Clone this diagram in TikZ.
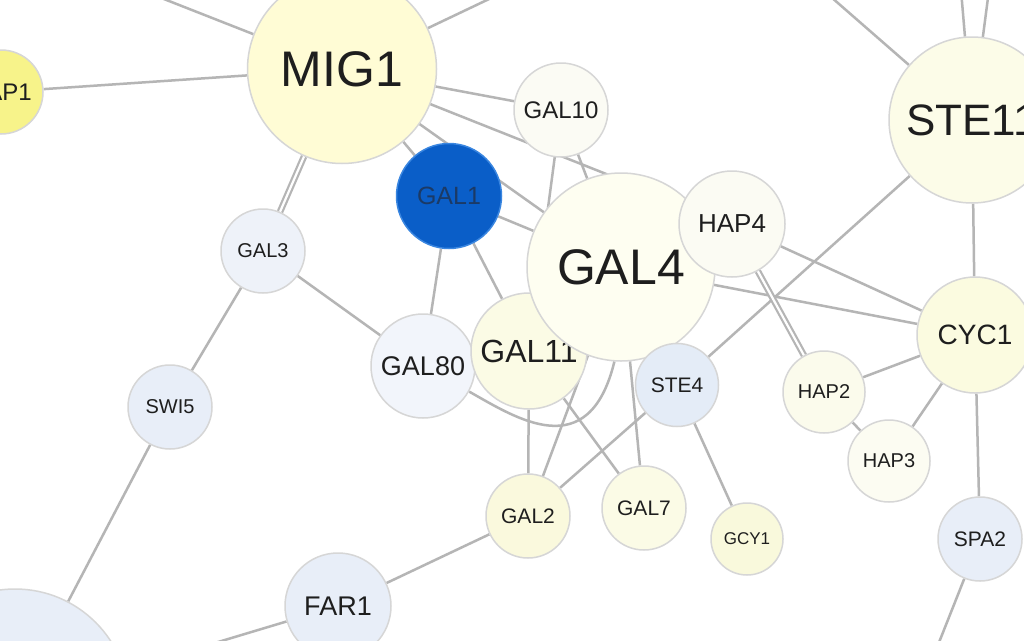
\documentclass[tikz,border=0pt]{standalone}
\usepackage{fontspec}
\setmainfont{Liberation Sans}
\pgfdeclarelayer{background}
\pgfsetlayers{background,main}
\definecolor{edgegray}{HTML}{B5B5B5}
\definecolor{nborder}{HTML}{D6D6D6}
\definecolor{txt}{HTML}{1E1E1E}
\definecolor{cMIG}{HTML}{FFFCD5}
\definecolor{cP}{HTML}{F7F38A}
\definecolor{cG10}{HTML}{FBFBF4}
\definecolor{cG4}{HTML}{FEFEF1}
\definecolor{cH4}{HTML}{FBFBF3}
\definecolor{cS11}{HTML}{FCFCE8}
\definecolor{cCYC}{HTML}{FBFBE0}
\definecolor{cG11}{HTML}{FBFBE5}
\definecolor{cG2}{HTML}{FAF9DD}
\definecolor{cG7}{HTML}{FBFBE6}
\definecolor{cGCY}{HTML}{F9F9DC}
\definecolor{cH2}{HTML}{FBFBEC}
\definecolor{cH3}{HTML}{FCFCF2}
\definecolor{cG3}{HTML}{EEF2F9}
\definecolor{cG80}{HTML}{F2F5FB}
\definecolor{cSTE4}{HTML}{E4ECF7}
\definecolor{cLB}{HTML}{E8EEF8}
\definecolor{cBlue}{HTML}{0A5EC8}
\definecolor{cBlueB}{HTML}{3A86E0}
\definecolor{cBlueT}{HTML}{1B3A66}
\tikzset{
  gn/.style={circle, draw=nborder, line width=1.5pt, inner sep=0pt, text=txt},
  fs/.style={font=\fontsize{#1}{#1}\selectfont},
  edge/.style={draw=edgegray, line width=2.5pt},
  dedge/.style={draw=edgegray, line width=2.2pt, double=white, double distance=2.2pt},
}
\begin{document}
\begin{tikzpicture}[x=1pt,y=-1pt]
\useasboundingbox (0,0) rectangle (1024,640);
\clip (0,0) rectangle (1024,640);
% nodes
\node[gn, fill=cMIG, minimum size=189pt, fs=50] (MIG1) at (342,69) {MIG1};
\node[gn, fill=cP, minimum size=84pt, label={[fs=24, text=txt, xshift=8pt]center:AP1}] (AP1) at (1,92) {};
\node[gn, fill=cG10, minimum size=94pt, fs=24] (GAL10) at (561,110) {GAL10};
\node[gn, fill=cBlue, draw=cBlueB, minimum size=105pt, fs=25, text=cBlueT] (GAL1) at (449,196) {GAL1};
\node[gn, fill=cG3, minimum size=84pt, fs=20] (GAL3) at (263,251) {GAL3};
\node[gn, fill=cG80, minimum size=104pt, fs=27] (GAL80) at (423,366) {GAL80};
\node[gn, fill=cG11, minimum size=116pt, fs=32] (GAL11) at (529,351) {GAL11};
\node[gn, fill=cG4, minimum size=188pt, fs=50] (GAL4) at (621,267) {GAL4};
\node[gn, fill=cH4, minimum size=106pt, fs=26] (HAP4) at (732,224) {HAP4};
\node[gn, fill=cS11, minimum size=166pt, fs=44] (STE11) at (972,120) {STE11};
\node[gn, fill=cCYC, minimum size=116pt, fs=28] (CYC1) at (975,335) {CYC1};
\node[gn, fill=cSTE4, minimum size=83pt, fs=21] (STE4) at (677,385) {STE4};
\node[gn, fill=cH2, minimum size=82pt, fs=20] (HAP2) at (824,392) {HAP2};
\node[gn, fill=cH3, minimum size=82pt, fs=20] (HAP3) at (889,461) {HAP3};
\node[gn, fill=cLB, minimum size=84pt, fs=20] (SWI5) at (170,407) {SWI5};
\node[gn, fill=cG2, minimum size=84pt, fs=21] (GAL2) at (528,516) {GAL2};
\node[gn, fill=cG7, minimum size=84pt, fs=21] (GAL7) at (644,508) {GAL7};
\node[gn, fill=cGCY, minimum size=72pt, fs=17] (GCY1) at (747,539) {GCY1};
\node[gn, fill=cLB, minimum size=84pt, fs=21] (SPA2) at (980,539) {SPA2};
\node[gn, fill=cLB, minimum size=106pt, fs=27] (FAR1) at (338,606) {FAR1};
\node[gn, fill=cLB, minimum size=228pt] (BL) at (15,703) {};
% free ends
\coordinate (mtl) at (141,-10);
\coordinate (mtr) at (508,-10);
\coordinate (sa) at (961,-10);
\coordinate (sb) at (989,-10);
\coordinate (stl) at (823,-10);
\coordinate (sbot) at (936,650);
% edges
\begin{pgfonlayer}{background}
\fill[white] (0,0) rectangle (1024,640);
\clip (0,0) rectangle (1024,640);
\draw[edge] (MIG1) -- (mtl);
\draw[edge] (MIG1) -- (mtr);
\draw[edge] (MIG1) -- (AP1);
\draw[edge] (MIG1) -- (GAL10);
\draw[edge] (MIG1.center) -- (HAP4.center);
\draw[edge] (MIG1.center) -- (GAL4.center);
\draw[edge] (MIG1) -- (GAL1);
\draw[dedge] (MIG1) -- (GAL3);
\draw[edge] (GAL10.center) -- (GAL11.center);
\draw[edge] (GAL10) -- (GAL4);
\draw[edge] (GAL1) -- (GAL4);
\draw[edge] (GAL1) -- (GAL80);
\draw[edge] (GAL1) -- (GAL11);
\draw[edge] (GAL3) -- (GAL80);
\draw[edge] (GAL3) -- (SWI5);
\draw[edge] (SWI5) -- (BL);
\draw[edge] (GAL80.-29) .. controls (516,418) and (589,466) .. (GAL4.-94);
\draw[edge] (GAL11) -- (GAL2);
\draw[edge] (GAL11) -- (GAL7);
\draw[edge] (GAL2.center) -- (GAL4.center);
\draw[edge] (GAL2) -- (STE4);
\draw[edge] (GAL2) -- (FAR1);
\draw[edge] (FAR1) -- (BL);
\draw[edge] (GAL4) -- (GAL7);
\draw[edge] (GAL4) -- (CYC1);
\draw[edge] (STE4) -- (GCY1);
\draw[edge] (STE4) -- (STE11);
\draw[edge] (HAP4) -- (CYC1);
\draw[dedge] (HAP4) -- (HAP2);
\draw[edge] (HAP2) -- (CYC1);
\draw[edge] (HAP2) -- (HAP3);
\draw[edge] (HAP3) -- (CYC1);
\draw[edge] (CYC1) -- (STE11);
\draw[edge] (CYC1) -- (SPA2);
\draw[edge] (SPA2) -- (sbot);
\draw[edge] (STE11) -- (sa);
\draw[edge] (STE11) -- (sb);
\draw[edge] (STE11) -- (stl);
\end{pgfonlayer}
\end{tikzpicture}
\end{document}
